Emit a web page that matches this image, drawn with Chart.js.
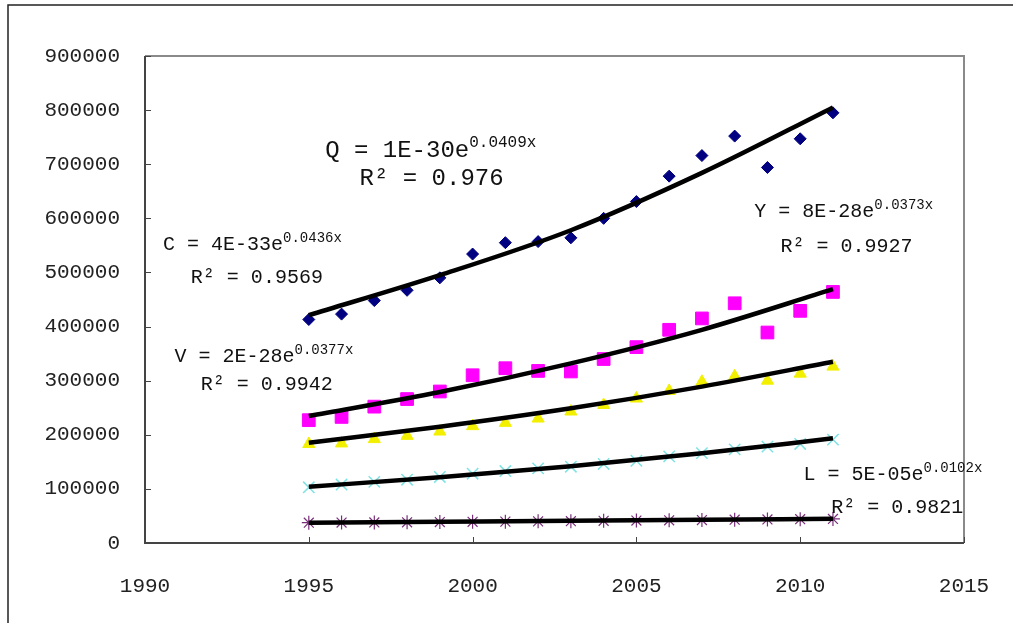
<!DOCTYPE html>
<html>
<head>
<meta charset="utf-8">
<script src="https://cdn.jsdelivr.net/npm/chart.js@4/dist/chart.umd.min.js"></script>
<style>
  html, body { margin: 0; padding: 0; background: #fff; }
  canvas { display: block; }
</style>
</head>
<body>
<canvas id="myChart" width="1013" height="623"></canvas>
<script>
// years on the x axis
const years = [1995, 1996, 1997, 1998, 1999, 2000, 2001, 2002, 2003, 2004, 2005, 2006, 2007, 2008, 2009, 2010, 2011];

const valuesQ = [413000, 423000, 448000, 467000, 490000, 534000, 555000, 557000, 564000, 600000, 631000, 678000, 716000, 752000, 694000, 747000, 795000];
const valuesC = [227000, 233000, 252000, 266000, 280000, 310000, 323000, 318000, 317000, 340000, 362000, 394000, 415000, 443000, 389000, 429000, 464000];
const valuesV = [183000, 184000, 192000, 198000, 206000, 216000, 222000, 230000, 243000, 255000, 267000, 281000, 298000, 308000, 300000, 313000, 326000];
const valuesY = [103000, 108000, 113000, 117000, 122000, 128000, 133000, 138000, 141000, 146000, 152000, 160000, 166000, 173000, 178000, 183000, 191000];
const valuesL = [37500, 37800, 38000, 38300, 38800, 39200, 39500, 40000, 40300, 41000, 41500, 42000, 42500, 43000, 43500, 44000, 44500];

// trend lines at a few years
const trendYears = [1995, 1999, 2003, 2007, 2011];
const trendQ = [421000, 495000, 578000, 684000, 805000];
const trendC = [234700, 279000, 332000, 394000, 469000];
const trendV = [185400, 215000, 249000, 289000, 335000];
const trendY = [104000, 121500, 142000, 165700, 193500];
const trendL = [37600, 39300, 41000, 42900, 44900];

// axis ticks
const xTicks = [1990, 1995, 2000, 2005, 2010, 2015];
const yTicks = [0, 100000, 200000, 300000, 400000, 500000, 600000, 700000, 800000, 900000];

// equation labels
const eqLabels = [
  { main: "Q = 1E-30e", sup: "0.0409x", size: 24, x: 1995.5, y: 713000 },
  { main: "R\u00b2 = 0.976", sup: "", size: 24, x: 1996.55, y: 661000 },
  { main: "C = 4E-33e", sup: "0.0436x", size: 20, x: 1990.55, y: 541000 },
  { main: "R\u00b2 = 0.9569", sup: "", size: 20, x: 1991.4, y: 481000 },
  { main: "V = 2E-28e", sup: "0.0377x", size: 20, x: 1990.9, y: 334000 },
  { main: "R\u00b2 = 0.9942", sup: "", size: 20, x: 1991.7, y: 283000 },
  { main: "Y = 8E-28e", sup: "0.0373x", size: 20, x: 2008.6, y: 602000 },
  { main: "R\u00b2 = 0.9927", sup: "", size: 20, x: 2009.4, y: 538000 },
  { main: "L = 5E-05e", sup: "0.0102x", size: 20, x: 2010.1, y: 116000 },
  { main: "R\u00b2 = 0.9821", sup: "", size: 20, x: 2010.95, y: 55000 },
];

const FONT = '"Liberation Mono", "DejaVu Sans Mono", monospace';

function pts(xs, ys) {
  return xs.map((x, i) => ({ x: x, y: ys[i] }));
}

function markers(label, values, style, color, radius, border) {
  return {
    label: label,
    data: pts(years, values),
    showLine: false,
    pointStyle: style,
    pointRadius: radius,
    pointBackgroundColor: color,
    pointBorderColor: color,
    pointBorderWidth: border,
    order: 1,
  };
}

function trend(label, values) {
  return {
    type: "line",
    label: label,
    data: pts(trendYears, values),
    showLine: true,
    borderColor: "#000",
    borderWidth: 4.5,
    pointRadius: 0,
    cubicInterpolationMode: "monotone",
    fill: false,
    order: 0,
  };
}

const decor = {
  id: "decor",
  beforeDraw(chart) {
    const ctx = chart.ctx;
    ctx.save();
    ctx.fillStyle = "#fff";
    ctx.fillRect(0, 0, chart.width, chart.height);
    // outer frame
    ctx.strokeStyle = "#222";
    ctx.lineWidth = 1.5;
    ctx.beginPath();
    ctx.moveTo(8, chart.height);
    ctx.lineTo(8, 5);
    ctx.lineTo(chart.width, 5);
    ctx.stroke();
    ctx.restore();
  },
  afterDraw(chart) {
    const ctx = chart.ctx;
    const a = chart.chartArea;
    const xs = chart.scales.x;
    const ys = chart.scales.y;
    ctx.save();
    // plot box
    ctx.lineWidth = 2;
    ctx.strokeStyle = "#8a8a8a";
    ctx.beginPath();
    ctx.moveTo(a.left, a.top);
    ctx.lineTo(a.right, a.top);
    ctx.lineTo(a.right, a.bottom);
    ctx.stroke();
    ctx.strokeStyle = "#444";
    ctx.beginPath();
    ctx.moveTo(a.left, a.top);
    ctx.lineTo(a.left, a.bottom);
    ctx.lineTo(a.right, a.bottom);
    ctx.stroke();
    // inner tick marks
    ctx.lineWidth = 1;
    ctx.beginPath();
    yTicks.forEach(v => {
      const p = Math.round(ys.getPixelForValue(v)) + 0.5;
      ctx.moveTo(a.left, p);
      ctx.lineTo(a.left + 6, p);
    });
    xTicks.forEach(v => {
      const p = Math.round(xs.getPixelForValue(v)) + 0.5;
      ctx.moveTo(p, a.bottom);
      ctx.lineTo(p, a.bottom - 6);
    });
    ctx.stroke();
    // equations
    ctx.fillStyle = "#111";
    ctx.textBaseline = "alphabetic";
    eqLabels.forEach(l => {
      const px = xs.getPixelForValue(l.x);
      const py = ys.getPixelForValue(l.y);
      ctx.font = l.size + "px " + FONT;
      ctx.fillText(l.main, px, py);
      if (l.sup) {
        const w = ctx.measureText(l.main).width;
        ctx.font = Math.round(l.size * 0.68) + "px " + FONT;
        ctx.fillText(l.sup, px + w, py - l.size * 0.42);
      }
    });
    ctx.restore();
  },
};

const ctx = document.getElementById("myChart").getContext("2d");
const myChart = new Chart(ctx, {
  type: "scatter",
  data: {
    datasets: [
      markers("Q", valuesQ, "rectRot", "#000080", 6, 1),
      markers("C", valuesC, "rect", "#ff00ff", 9, 1),
      markers("V", valuesV, "triangle", "#f2f000", 7, 1),
      markers("Y", valuesY, "crossRot", "#7de3e3", 8, 1.5),
      markers("L", valuesL, "star", "#7a2f7a", 7, 1.2),
      trend("Q trend", trendQ),
      trend("C trend", trendC),
      trend("V trend", trendV),
      trend("Y trend", trendY),
      trend("L trend", trendL),
    ],
  },
  options: {
    responsive: false,
    animation: false,
    layout: { padding: { left: 0, right: 49, top: 56, bottom: 0 } },
    plugins: {
      legend: { display: false },
      tooltip: { enabled: false },
    },
    scales: {
      x: {
        type: "linear",
        min: 1990,
        max: 2015,
        afterBuildTicks: s => { s.ticks = xTicks.map(v => ({ value: v })); },
        afterFit: s => { s.height = 80; s.paddingLeft = 0; s.paddingRight = 0; },
        grid: { display: false, drawTicks: false },
        border: { display: false },
        ticks: {
          padding: 31,
          color: "#222",
          font: { family: FONT, size: 21 },
          callback: v => String(v),
          maxRotation: 0,
        },
      },
      y: {
        min: 0,
        max: 900000,
        afterBuildTicks: s => { s.ticks = yTicks.map(v => ({ value: v })); },
        afterFit: s => { s.width = 145; s.paddingTop = 0; s.paddingBottom = 0; },
        grid: { display: false, drawTicks: false },
        border: { display: false },
        ticks: {
          padding: 25,
          color: "#222",
          font: { family: FONT, size: 21 },
          callback: v => String(v),
        },
      },
    },
  },
  plugins: [decor],
});
</script>
</body>
</html>
